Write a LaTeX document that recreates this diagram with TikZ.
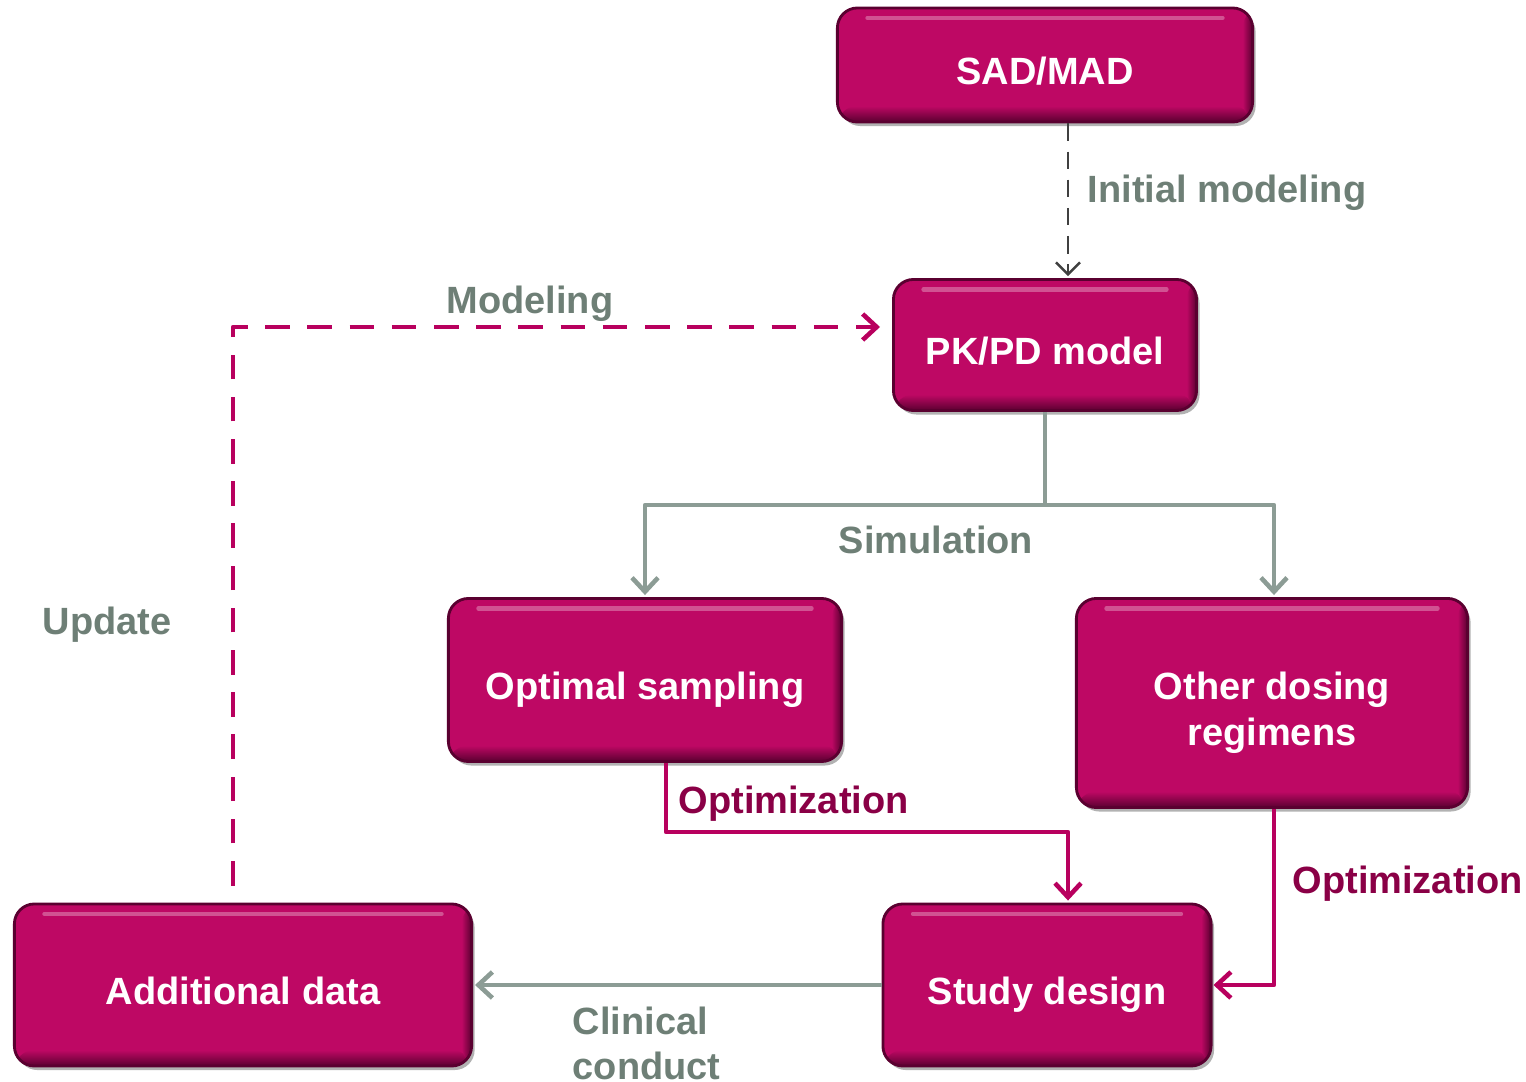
\documentclass[tikz,border=0pt]{standalone}
\usepackage{fontspec}
\setmainfont{Liberation Sans}
\usetikzlibrary{arrows.meta,shadows}
\definecolor{boxc}{HTML}{BE0864}
\definecolor{boxdark}{HTML}{5A0030}
\definecolor{lblgray}{HTML}{6E7F76}
\definecolor{linegray}{HTML}{8C9C95}
\definecolor{optc}{HTML}{8A0046}
\definecolor{maglin}{HTML}{B8005E}
\begin{document}
\begin{tikzpicture}[x=0.01cm,y=-0.01cm, line join=round,
    font=\fontsize{10.8}{13}\selectfont\bfseries,
    blk/.style={draw=boxdark, line width=0.8pt, fill=boxc, rounded corners=0.2cm,
        text=white, align=center, inner sep=0pt, text height=11pt, text depth=0pt,
        drop shadow={shadow xshift=0.03cm, shadow yshift=-0.04cm, fill=black, opacity=.3},
        path picture={
            \draw[white, opacity=.3, line width=1.2pt, line cap=round]
                ([xshift=0.3cm,yshift=-0.1cm]path picture bounding box.north west)
                -- ([xshift=-0.3cm,yshift=-0.1cm]path picture bounding box.north east);
            \shade[top color=boxc, bottom color=boxdark] ([yshift=0.16cm]path picture bounding box.south west)
                rectangle (path picture bounding box.south east);
            \shade[left color=boxc, right color=boxdark] ([xshift=-0.1cm]path picture bounding box.north east)
                rectangle (path picture bounding box.south east);
        }},
    lbl/.style={text=lblgray, inner sep=0pt},
    optlbl/.style={text=optc, inner sep=0pt},
    grayln/.style={draw=linegray, line width=1.3pt, -{Straight Barb[length=0.14cm,width=0.26cm]}},
    darkdash/.style={draw=black!75, line width=0.7pt, dash pattern=on 5pt off 3pt, -{Straight Barb[length=0.12cm,width=0.24cm]}},
    magdash/.style={draw=maglin, line width=1.3pt, dash pattern=on 7pt off 5pt, -{Straight Barb[length=0.14cm,width=0.26cm]}},
    magln/.style={draw=maglin, line width=1.3pt, -{Straight Barb[length=0.14cm,width=0.26cm]}}]
\useasboundingbox (0,0) rectangle (1526,1082);
% boxes
\node[blk, minimum width=4.15cm, minimum height=1.14cm] (sad) at (1045,65) {SAD/MAD};
\node[blk, minimum width=3.03cm, minimum height=1.31cm] (pk) at (1045,345) {PK/PD model};
\node[blk, minimum width=3.93cm, minimum height=1.63cm] (opt) at (645,680) {Optimal sampling};
\node[blk, minimum width=3.91cm, minimum height=2.09cm, text height=24pt] (oth) at (1272,703) {Other dosing\\regimens};
\node[blk, minimum width=3.28cm, minimum height=1.62cm] (stu) at (1047,985) {Study design};
\node[blk, minimum width=4.57cm, minimum height=1.62cm] (add) at (243,985) {Additional data};
% labels
\node[lbl, anchor=west] (linit) at (1087,193) {Initial modeling};
\node[lbl] (lmod) at (530,304) {Modeling};
\node[lbl] (lupd) at (107,625) {Update};
\node[lbl] (lsim) at (936,540) {Simulation};
\node[optlbl, anchor=west] (lopt1) at (678,804) {Optimization};
\node[optlbl, anchor=west] (lopt2) at (1292,884) {Optimization};
\node[lbl, anchor=north west, align=left] (lcli) at (572,1006) {Clinical\\conduct};
% connectors
\draw[darkdash] ([xshift=0.23cm]sad.south) -- ([xshift=0.23cm,yshift=0.02cm]pk.north);
\draw[magdash] ([xshift=-0.1cm,yshift=0.17cm]add.north) |- ([xshift=-0.12cm,yshift=0.18cm]pk.west);
\draw[grayln,-] (pk.south) -- ++(0,93) coordinate (sim);
\draw[grayln] (sim) -| ([yshift=0.02cm]opt.north);
\draw[grayln] (sim) -| ([xshift=0.02cm,yshift=0.02cm]oth.north);
\draw[magln] ([xshift=0.21cm]opt.south) -- ++(0,69) -| ([xshift=0.21cm,yshift=0.02cm]stu.north);
\draw[magln] ([xshift=0.02cm]oth.south) |- ([xshift=0.01cm]stu.east);
\draw[grayln] (stu.west) -- ([xshift=0.02cm]add.east);
\end{tikzpicture}
\end{document}
